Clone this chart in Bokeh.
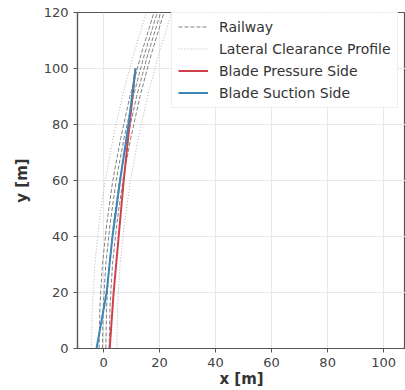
from bokeh.plotting import figure
from bokeh.models import Range1d, Legend, LegendItem, SingleIntervalTicker
from bokeh.embed import file_html
from bokeh.resources import INLINE

# --- data ---
rail_y = [0, 15, 30, 45, 60, 75, 90, 105, 120]
rail_x1 = [-1.6, -1.3, -0.4, 1.2, 3.3, 6.1, 9.4, 13.4, 18.0]
rail_x2 = [-0.4, -0.1, 0.8, 2.4, 4.5, 7.3, 10.6, 14.6, 19.2]
rail_x3 = [0.8, 1.1, 2.0, 3.6, 5.7, 8.5, 11.8, 15.8, 20.4]
rail_x4 = [2.0, 2.3, 3.2, 4.8, 6.9, 9.7, 13.0, 17.0, 21.6]
clear_left_x = [-4.3, -4.0, -3.1, -1.6, 0.6, 3.4, 6.7, 10.7, 15.3]
clear_right_x = [4.7, 5.0, 5.9, 7.5, 9.6, 12.4, 15.7, 19.7, 24.3]

blade_y = [0, 20, 40, 60, 80, 100]
pressure_x = [2.2, 3.6, 5.4, 7.2, 9.3, 11.4]
suction_x = [-2.5, 1.1, 3.2, 5.9, 8.9, 11.4]

legend_labels = ["Railway", "Lateral Clearance Profile",
                 "Blade Pressure Side", "Blade Suction Side"]

p = figure(width=405, height=390, output_backend="svg", toolbar_location=None,
           x_range=Range1d(-9.3, 107.8), y_range=Range1d(0, 120),
           min_border_left=77, min_border_right=0, min_border_top=12,
           min_border_bottom=42)
p.background_fill_color = "white"
p.border_fill_color = "white"
p.outline_line_color = "#555555"
p.outline_line_width = 1.2

p.xaxis.ticker = SingleIntervalTicker(interval=20)
p.yaxis.ticker = SingleIntervalTicker(interval=20)
for ax in (p.xaxis[0], p.yaxis[0]):
    ax.axis_line_color = "#555555"
    ax.axis_line_width = 1.2
    ax.major_tick_line_color = "#555555"
    ax.major_tick_out = 4
    ax.major_tick_in = 0
    ax.minor_tick_line_color = None
    ax.major_label_text_font = "DejaVu Sans"
    ax.major_label_text_font_size = "13px"
    ax.major_label_text_color = "#444444"
    ax.axis_label_text_font = "DejaVu Sans"
    ax.axis_label_text_font_size = "15px"
    ax.axis_label_text_font_style = "bold"
    ax.axis_label_text_color = "#333333"
p.xaxis.axis_label = "x [m]"
p.yaxis.axis_label = "y [m]"
p.xaxis.axis_label_standoff = 0
p.xaxis.major_label_standoff = 5
p.yaxis.axis_label_standoff = 10
p.grid.grid_line_color = "#e8e8e8"
p.grid.grid_line_width = 1

rail_style = dict(line_color="#808080", line_dash="4 2", line_width=1)
r1 = p.line(rail_x1, rail_y, **rail_style)
p.line(rail_x2, rail_y, **rail_style)
p.line(rail_x3, rail_y, **rail_style)
p.line(rail_x4, rail_y, **rail_style)

clear_style = dict(line_color="#b0b0b0", line_dash="1 2", line_width=1)
c1 = p.line(clear_left_x, rail_y, **clear_style)
p.line(clear_right_x, rail_y, **clear_style)

rp = p.line(pressure_x, blade_y, line_color="#d0404a", line_width=2)
rs = p.line(suction_x, blade_y, line_color="#3d86b8", line_width=2)

legend = Legend(items=[
    LegendItem(label=legend_labels[0], renderers=[r1]),
    LegendItem(label=legend_labels[1], renderers=[c1]),
    LegendItem(label=legend_labels[2], renderers=[rp]),
    LegendItem(label=legend_labels[3], renderers=[rs]),
], location=(94, 240))
legend.label_text_font = "DejaVu Sans"
legend.label_text_font_size = "14px"
legend.label_text_color = "#333333"
legend.glyph_width = 30
legend.glyph_height = 17
legend.label_height = 17
legend.label_standoff = 11
legend.spacing = 5
legend.padding = 6
legend.margin = 0
legend.border_line_color = "#dddddd"
legend.background_fill_alpha = 0.9
p.add_layout(legend)

open("out.html", "w").write(file_html(p, INLINE))
